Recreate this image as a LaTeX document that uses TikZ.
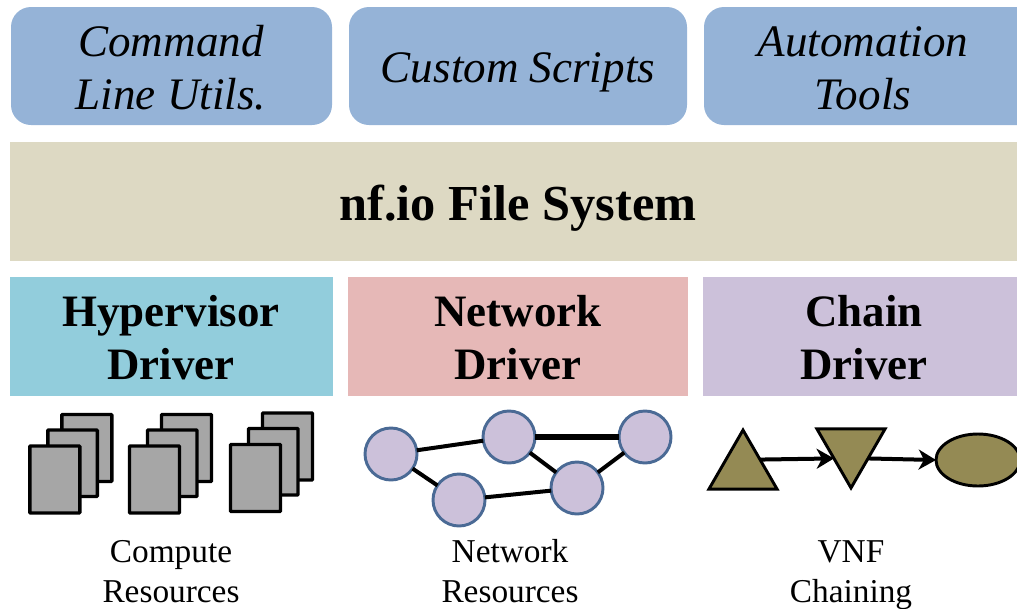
\documentclass[tikz,border=0pt]{standalone}
\usepackage{fontspec}
\setmainfont{Liberation Serif}
\usetikzlibrary{shapes.geometric,arrows.meta}
\definecolor{toolblue}{HTML}{95B3D7}
\definecolor{fsband}{HTML}{DDD9C3}
\definecolor{hypcol}{HTML}{92CDDC}
\definecolor{netcol}{HTML}{E6B8B7}
\definecolor{chaincol}{HTML}{CCC1DA}
\definecolor{pagegray}{HTML}{A6A6A6}
\definecolor{circedge}{HTML}{4A6A95}
\definecolor{olive}{HTML}{948A54}
\tikzset{
  tool/.style={fill=toolblue,rounded corners=15pt},
  tooltext/.style={align=center,font=\fontsize{33.8}{39.8}\selectfont\itshape,inner sep=0pt},
  drivertext/.style={align=center,font=\fontsize{33.7}{39.8}\selectfont\bfseries,inner sep=0pt},
  captiontext/.style={align=center,font=\fontsize{25}{30}\selectfont,inner sep=0pt},
  pagebox/.style={draw=black,line width=2.6pt,fill=pagegray,rounded corners=0.6pt},
  vertex/.style={circle,draw=circedge,line width=2.2pt,fill=chaincol,minimum size=39pt,inner sep=0pt,outer sep=0pt},
  link/.style={draw=black,line width=3pt},
  vnf/.style={draw=black,line width=2.2pt,fill=olive,inner sep=0pt,outer sep=0pt,line join=miter},
  vnftri/.style={vnf,regular polygon,regular polygon sides=3,minimum size=59pt},
  chainarrow/.style={draw=black,line width=3pt,-{Stealth[length=13pt,width=15pt,inset=4pt]}}
}
\newcommand{\pagestack}[2]{%
  \draw[pagebox] (#1+32,#2-31.5) rectangle (#1+82,#2+35.5);
  \draw[pagebox] (#1+18,#2-16) rectangle (#1+67.5,#2+50.5);
  \draw[pagebox] (#1,#2) rectangle (#1+50,#2+67);
}
\begin{document}
\begin{tikzpicture}[x=0.75pt,y=-0.75pt]
\useasboundingbox (0,0) rectangle (1017,608);
\clip (0,0) rectangle (1017,608);
% top row
\path[tool] (11,7) rectangle (332,125);
\path[tool] (349,7) rectangle (687,125);
\path[tool] (704,7) rectangle (1040,125);
\node[tooltext] (cmd) at (171,68) {Command\\Line Utils.};
\node[tooltext] (scr) at (518,72) {Custom Scripts};
\node[tooltext] (auto) at (863,68) {Automation\\Tools};
% file system band
\fill[fsband] (10,142) rectangle (1017,261);
\node[font=\fontsize{37.8}{46}\selectfont\bfseries,inner sep=0pt] (fs) at (518,208) {nf.io File System};
% drivers
\fill[hypcol] (10,277) rectangle (333,396);
\fill[netcol] (348,277) rectangle (688,396);
\fill[chaincol] (703,277) rectangle (1017,396);
\node[drivertext] (hyp) at (171,338) {Hypervisor\\Driver};
\node[drivertext] (net) at (518,338) {Network\\Driver};
\node[drivertext] (chain) at (864,338) {Chain\\Driver};
% compute
\pagestack{29.8}{446}
\pagestack{129.5}{446}
\pagestack{230.5}{444.5}
\node[captiontext] (cap1) at (171,571.5) {Compute\\Resources};
% network
\node[vertex] (n1) at (391,454) {};
\node[vertex] (n2) at (509,437) {};
\node[vertex] (n3) at (645,437) {};
\node[vertex] (n4) at (577,488) {};
\node[vertex] (n5) at (459,500) {};
\draw[link] (n1) -- (n2);
\draw[link] (n1) -- (n5);
\draw[link] (n5) -- (n4);
\draw[link] (n2) -- (n4);
\draw[link] (n4) -- (n3);
\draw[link,line width=4.6pt] (n2) -- (n3);
\node[captiontext] (cap2) at (510,571) {Network\\Resources};
% chain
\node[vnftri] (t1) at (743,469.4) {};
\node[vnftri,shape border rotate=180] (t2) at (851,448.6) {};
\node[vnf,ellipse,minimum width=63pt,minimum height=39pt] (e1) at (978,460) {};
\draw[chainarrow] (t1.30) -- (t2.210);
\draw[chainarrow] (t2.330) -- (e1.west);
\node[captiontext] (cap3) at (851,575) {VNF\\Chaining};
\end{tikzpicture}
\end{document}
